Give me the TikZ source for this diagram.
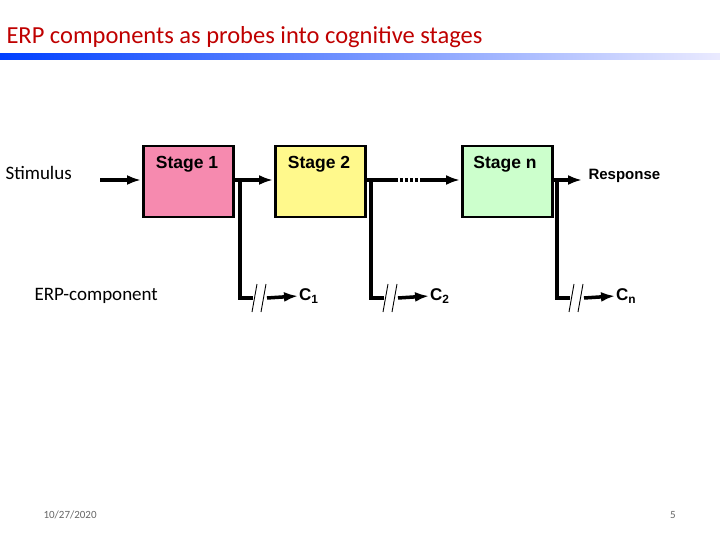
\documentclass[tikz,border=0pt]{standalone}
\usepackage{fontspec}
\setmainfont{Carlito}
\newfontfamily\arialf{Liberation Sans}
\usetikzlibrary{arrows.meta}
\begin{document}
\begin{tikzpicture}[x=1pt,y=-1pt,
  stage/.style={draw=black,line width=2.5pt,minimum width=90pt,minimum height=71pt,anchor=north west,inner sep=0pt},
  slab/.style={font=\arialf\bfseries\fontsize{17.5}{20}\selectfont},
  wire/.style={line width=3.5pt},
  arr/.style={wire,-{Latex[length=14pt,width=10pt]}},
  hatch/.style={line width=0.9pt}]
\useasboundingbox (0,0) rectangle (720,540);
\node[anchor=west,text=red!75!black,font=\fontsize{24.5}{28}\selectfont] (title) at (3,37) {ERP components as probes into cognitive stages};
\shade[left color=blue!75!cyan,right color=blue!8] (0,54) rectangle (720,60);
\node[stage,fill=magenta!35!pink!90] (s1) at (142,145) {};
\node[stage,fill=yellow!45] (s2) at (274,145) {};
\node[stage,fill=green!20] (sn) at (461,145) {};
\node[slab] (t1) at (187,164) {Stage 1};
\node[slab] (t2) at (319,164) {Stage 2};
\node[slab] (tn) at (505,164) {Stage n};
\node[anchor=west,font=\fontsize{19}{22}\selectfont] (stim) at (2,173) {Stimulus};
\node[anchor=west,font=\fontsize{19}{22}\selectfont] (erp) at (31,296) {ERP-component};
\node[anchor=west,font=\arialf\bfseries\fontsize{15}{17}\selectfont] (resp) at (585,176) {Response};
\coordinate (stimend) at (100,180);
\draw[arr] (stimend) -- (141,180);
\draw[arr] (233,180) -- (273,180);
\draw[wire] (365,180) -- (395,180);
\draw[wire,dash pattern=on 3pt off 2pt] (395,180) -- (422,180);
\draw[arr] (422,180) -- (460,180);
\draw[arr] (551,180) -- (582,180);
\foreach \bx/\cx/\lab/\nm in {240/310/{C\textsubscript{1}}/c1, 371/441/{C\textsubscript{2}}/c2, 557/627/{C\textsubscript{n}}/cn}{
  \draw[wire] (\bx,181) -- (\bx,298) -- (\bx+13,298);
  \draw[hatch] (\bx+12,312) -- (\bx+17,284);
  \draw[hatch] (\bx+21,312) -- (\bx+26,284);
  \node[font=\arialf\bfseries\fontsize{17}{20}\selectfont,anchor=west,inner sep=1pt] (\nm) at (\cx-12,296) {\lab};
  \draw[arr] (\bx+27,298) -- (\nm.west);
}
\node[anchor=west,text=gray!80!black,font=\fontsize{11}{13}\selectfont] (date) at (40,515) {10/27/2020};
\node[text=gray!80!black,font=\fontsize{11}{13}\selectfont] (pg) at (673,515) {5};
\end{tikzpicture}
\end{document}
